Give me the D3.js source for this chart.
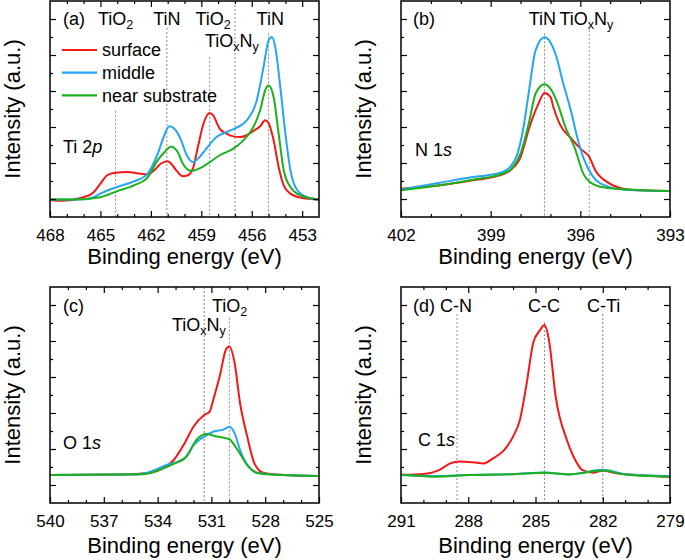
<!DOCTYPE html>
<html><head><meta charset="utf-8">
<script src="https://cdn.jsdelivr.net/npm/d3@7"></script>
<style>
body{margin:0;background:#fff}
svg{display:block;font-family:"Liberation Sans",Arial,sans-serif}
</style>
</head><body>
<svg id="chart" width="685" height="560"></svg>
<script>
// ---------- data (binding energy eV, intensity a.u.) ----------
const seriesNames = ["surface", "middle", "near substrate"];
const seriesColors = ["#f21818", "#25a5f2", "#1cb01c"];

// Ti 2p
const tiSurface = [[468,0.95],[467.3,0.9],[466,1.1],[465.4,1.38],[465,1.85],[464.6,2.32],[464.2,2.45],[463.4,2.5],[462.6,2.4],[462.2,2.37],[461.8,2.6],[461.4,2.97],[461.0,3.1],[460.8,2.97],[460.5,2.6],[460.1,2.26],[459.8,2.32],[459.5,2.7],[459.2,3.9],[458.9,5.1],[458.5,5.78],[458.3,5.65],[457.9,4.9],[457.5,4.63],[457.1,4.48],[456.7,4.44],[456.3,4.54],[455.9,4.78],[455.5,5.04],[455.2,5.37],[455.0,5.22],[454.7,4.26],[454.4,2.78],[454.1,1.76],[453.7,1.3],[453.1,1.08],[452,0.97]];
const tiMiddle = [[468,0.97],[466,0.98],[465.4,1.1],[465,1.3],[464,1.67],[463,1.98],[462.2,2.4],[461.6,3.5],[461.2,4.54],[460.9,5.04],[460.6,4.9],[460.2,4.26],[459.9,3.5],[459.5,3.05],[459.1,3.33],[458.7,3.8],[458.1,4.44],[457.5,4.72],[456.9,4.96],[456.3,5.37],[455.7,6.48],[455.3,8.33],[455.0,9.81],[454.8,10.0],[454.6,9.44],[454.3,7.2],[454.0,4.63],[453.7,2.6],[453.3,1.5],[452.7,1.1],[452,0.97]];
const tiNear = [[468,0.97],[466.5,0.97],[465,1.1],[464,1.44],[463,1.76],[462.2,2.2],[461.6,3.15],[461.2,3.6],[460.8,3.9],[460.4,3.6],[460.1,2.97],[459.6,2.56],[459.1,2.7],[458.5,3.05],[457.9,3.43],[457.1,3.8],[456.5,4.26],[455.9,5.0],[455.5,5.93],[455.2,7.04],[455.0,7.3],[454.7,6.67],[454.4,4.63],[454.1,2.6],[453.7,1.67],[453.1,1.2],[452,0.97]];

// N 1s
const nSurface = [[402,1.57],[400.7,1.76],[399.6,2.04],[398.7,2.31],[398.35,2.59],[398.0,3.33],[397.7,5.0],[397.4,6.3],[397.2,6.89],[397.0,6.67],[396.9,6.1],[396.7,5.2],[396.3,4.35],[396.0,3.8],[395.7,3.33],[395.5,2.6],[395.1,1.94],[394.7,1.63],[394.0,1.48],[393,1.44]];
const nMiddle = [[402,1.52],[400.7,1.9],[399.6,2.22],[398.7,2.44],[398.35,2.78],[398.1,3.52],[397.9,5.0],[397.7,7.2],[397.5,9.24],[397.2,9.98],[397.0,9.7],[396.8,8.9],[396.6,7.6],[396.3,5.8],[396.1,4.4],[395.9,3.3],[395.6,2.3],[395.1,1.7],[394.5,1.52],[393,1.44]];
const nNear = [[402,1.48],[400.7,1.76],[399.6,2.07],[398.6,2.41],[398.3,2.69],[398.0,3.52],[397.7,5.37],[397.5,6.85],[397.2,7.37],[397.0,7.13],[396.8,6.48],[396.5,5.0],[396.2,3.89],[395.9,2.41],[395.6,1.85],[395.1,1.61],[393,1.44]];

// O 1s
const oSurface = [[540,1.56],[536,1.58],[534.4,1.68],[533.7,1.92],[533.1,2.39],[532.5,3.31],[532.0,4.24],[531.4,4.89],[531.1,5.07],[530.9,5.72],[530.5,7.2],[530.2,8.5],[530.0,8.7],[529.7,7.76],[529.4,5.54],[529.0,3.69],[528.6,2.2],[528.1,1.68],[527,1.56],[525,1.5]];
const oMiddle = [[540,1.56],[535.3,1.58],[534.4,1.74],[533.5,2.11],[532.5,2.48],[532.0,3.22],[531.4,3.69],[530.9,3.96],[530.3,4.09],[530.0,4.24],[529.7,3.87],[529.4,2.94],[529.0,2.11],[528.4,1.68],[527,1.55],[525,1.5]];
const oNear = [[540,1.56],[534.8,1.6],[534.0,1.8],[533.1,2.17],[532.4,2.57],[531.8,3.54],[531.3,3.83],[530.7,3.69],[530.0,3.54],[529.6,3.04],[529.0,2.11],[528.4,1.65],[527,1.55],[525,1.5]];

// C 1s
const cSurface = [[291,1.56],[290,1.61],[289.3,1.83],[288.8,2.2],[288.4,2.3],[287.8,2.26],[287.3,2.2],[286.9,2.48],[286.4,2.94],[286.0,3.69],[285.7,4.6],[285.4,6.6],[285.1,8.9],[284.8,9.6],[284.6,9.89],[284.4,9.06],[284.1,5.91],[283.6,3.5],[283.3,2.57],[282.9,1.83],[282.4,1.68],[282.0,1.8],[281.4,1.65],[279,1.46]];
const cMiddle = [[291,1.56],[289.5,1.5],[288,1.56],[286,1.6],[284.6,1.7],[283.5,1.58],[282.0,1.85],[281,1.6],[279,1.5]];
const cNear = [[291,1.58],[289.5,1.46],[288,1.55],[286,1.6],[284.6,1.68],[283.5,1.6],[282.0,1.8],[281,1.58],[279,1.46]];

// axes
const tiTicks = [468,465,462,459,456,453];
const nTicks = [402,399,396,393];
const oTicks = [540,537,534,531,528,525];
const cTicks = [291,288,285,282,279];
const yMajor = [1,3,5,7,9,11];
const yMinor = [2,4,6,8,10];

// reference lines [energy, top intensity]
const tiLines = [[464.1,5.9],[461.05,10.5],[458.5,8.9],[457.0,12],[455.0,10.2]];
const nLines = [[397.2,10.2],[395.7,10.4]];
const oLines = [[531.4,12],[530.0,10.3]];
const cLines = [[288.5,10.5],[284.6,10.05],[282.0,10.5]];

// ---------- layout ----------
const svg = d3.select("#chart");
const FS_TICK = 17, FS_ANN = 18, FS_TITLE = 22;

const panels = [
  {id:"a", dom:[468,452], ticks:tiTicks, box:[50,319,1,217], data:[tiSurface,tiMiddle,tiNear], lines:tiLines, titleY:263.5},
  {id:"b", dom:[402,393], ticks:nTicks, box:[401,670,1,217], data:[nSurface,nMiddle,nNear], lines:nLines, titleY:263.5},
  {id:"c", dom:[540,525], ticks:oTicks, box:[50,319,287,503], data:[oSurface,oMiddle,oNear], lines:oLines, titleY:553},
  {id:"d", dom:[291,279], ticks:cTicks, box:[401,670,287,503], data:[cSurface,cMiddle,cNear], lines:cLines, titleY:553}
];

panels.forEach(p => {
  const [L,R,T,B] = p.box;
  p.x = d3.scaleLinear().domain(p.dom).range([L,R]);
  p.y = d3.scaleLinear().domain([0,12]).range([B,T]);
  const g = svg.append("g");
  p.g = g;
  const minor = d3.range(Math.ceil(p.dom[1]), Math.floor(p.dom[0])+1).filter(v => !p.ticks.includes(v) && v>p.dom[1] && v<p.dom[0]);
  const majorInner = p.ticks.filter(v => v>p.dom[1] && v<p.dom[0]);

  g.append("clipPath").attr("id","clip"+p.id).append("rect")
    .attr("x",L).attr("y",T).attr("width",R-L).attr("height",B-T);

  // reference dotted lines
  g.selectAll(".ref").data(p.lines).join("line")
    .attr("x1",d=>p.x(d[0])).attr("x2",d=>p.x(d[0]))
    .attr("y1",d=>p.y(Math.min(d[1],12))).attr("y2",B)
    .attr("stroke","#8a8a8a").attr("stroke-width",1).attr("stroke-dasharray","2,2");

  // data
  const line = d3.line().x(d=>p.x(d[0])).y(d=>p.y(d[1])).curve(d3.curveMonotoneX);
  p.data.forEach((s,i) => {
    g.append("path").datum(s).attr("d",line)
      .attr("fill","none").attr("stroke",seriesColors[i]).attr("stroke-width",2)
      .attr("stroke-linejoin","round").attr("clip-path","url(#clip"+p.id+")");
  });

  // axes
  const bot = g.append("g").attr("transform",`translate(0,${B})`)
    .call(d3.axisBottom(p.x).tickValues(p.ticks).tickSize(-6).tickPadding(11.5).tickFormat(d3.format("d")));
  bot.selectAll("text").attr("font-size",FS_TICK).attr("font-family","Liberation Sans, Arial, sans-serif").attr("fill","#000");
  g.append("g").attr("transform",`translate(0,${B})`)
    .call(d3.axisBottom(p.x).tickValues(minor).tickSize(-3).tickFormat(""));
  g.append("g").attr("transform",`translate(0,${T})`)
    .call(d3.axisTop(p.x).tickValues(majorInner).tickSize(-6).tickFormat(""));
  g.append("g").attr("transform",`translate(0,${T})`)
    .call(d3.axisTop(p.x).tickValues(minor).tickSize(-3).tickFormat(""));
  g.append("g").attr("transform",`translate(${L},0)`)
    .call(d3.axisLeft(p.y).tickValues(yMajor).tickSize(-6).tickFormat(""));
  g.append("g").attr("transform",`translate(${L},0)`)
    .call(d3.axisLeft(p.y).tickValues(yMinor).tickSize(-3).tickFormat(""));
  g.append("g").attr("transform",`translate(${R},0)`)
    .call(d3.axisRight(p.y).tickValues(yMajor).tickSize(-6).tickFormat(""));
  g.append("g").attr("transform",`translate(${R},0)`)
    .call(d3.axisRight(p.y).tickValues(yMinor).tickSize(-3).tickFormat(""));
  g.selectAll(".domain").remove();
  g.selectAll(".tick line").attr("stroke","#000").attr("stroke-width",1.2);

  // frame
  g.append("rect").attr("x",L).attr("y",T).attr("width",R-L).attr("height",B-T)
    .attr("fill","none").attr("stroke","#000").attr("stroke-width",1.5);

  // axis titles
  g.append("text").attr("x",(L+R)/2).attr("y",p.titleY).attr("text-anchor","middle")
    .attr("font-size",FS_TITLE).text("Binding energy (eV)");
  g.append("text").attr("transform",`translate(${L-30.5},${(T+B)/2}) rotate(-90)`)
    .attr("text-anchor","middle").attr("font-size",FS_TITLE).text("Intensity (a.u.)");
});

// ---------- annotations ----------
function ann(g, x, y, parts, anchor) {
  const t = g.append("text").attr("x",x).attr("y",y).attr("font-size",FS_ANN)
    .attr("text-anchor",anchor||"start").attr("fill","#000");
  parts.forEach(pt => {
    const s = t.append("tspan").text(pt[0]);
    if (pt[1]==="sub") s.attr("font-size",12.5).attr("dy",4);
    else if (pt[1]==="it") s.attr("font-style","italic");
    if (pt[2]) s.attr("dy",pt[2]);
  });
  return t;
}
const TiO2 = [["TiO"],["2","sub"]];
const TiOxNy = [["TiO"],["x","sub"],["N",null,-4],["y","sub"]];

const [pa,pb,pc,pd] = panels;
ann(pa.g, 63, 25, [["(a)"]]);
ann(pa.g, pa.x(464.1), 25, TiO2, "middle");
ann(pa.g, pa.x(461.05), 25, [["TiN"]], "middle");
ann(pa.g, pa.x(458.3), 25, TiO2, "middle");
ann(pa.g, pa.x(454.9), 25, [["TiN"]], "middle");
ann(pa.g, 205, 47, TiOxNy);
ann(pa.g, 63, 153, [["Ti 2"],["p","it"]]);

// legend
seriesNames.forEach((n,i) => {
  const yy = 50 + i*22.7;
  pa.g.append("line").attr("x1",62).attr("x2",97).attr("y1",yy).attr("y2",yy)
    .attr("stroke",seriesColors[i]).attr("stroke-width",2.2);
  pa.g.append("text").attr("x",102).attr("y",yy+6.3).attr("font-size",FS_ANN).text(n);
});

ann(pb.g, 413, 25, [["(b)"]]);
ann(pb.g, 556, 25, [["TiN"]], "end");
ann(pb.g, 559.5, 25, TiOxNy);
ann(pb.g, 415, 156, [["N 1"],["s","it"]]);

ann(pc.g, 63, 312, [["(c)"]]);
ann(pc.g, 212, 312, TiO2);
ann(pc.g, 172, 331, TiOxNy);
ann(pc.g, 63, 449, [["O 1"],["s","it"]]);

ann(pd.g, 413, 312, [["(d)"]]);
ann(pd.g, 440, 312, [["C-N"]]);
ann(pd.g, 528, 312, [["C-C"]]);
ann(pd.g, 587, 312, [["C-Ti"]]);
ann(pd.g, 418, 446, [["C 1"],["s","it"]]);
</script>
</body></html>
